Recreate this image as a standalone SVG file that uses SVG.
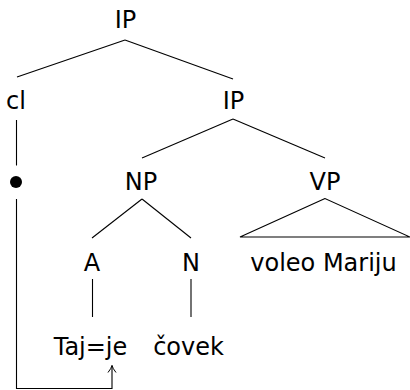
<svg xmlns="http://www.w3.org/2000/svg" width="410" height="390" viewBox="0 0 410 390">
<defs>
<style>
.t{font-family:"DejaVu Sans","Liberation Sans",sans-serif;font-size:24px;fill:#000;text-anchor:middle}
.e{stroke:#000;stroke-width:1.1;fill:none}
</style>
<marker id="ah" viewBox="0 0 10 10" refX="9" refY="5" markerWidth="10" markerHeight="10" markerUnits="userSpaceOnUse" orient="auto">
<path d="M2,1 Q6,4.2 9,5 Q6,5.8 2,9" fill="none" stroke="#000" stroke-width="1"/>
</marker>
</defs>
<rect width="410" height="390" fill="#fff"/>
<g id="connectors">
<line class="e" x1="125" y1="40" x2="17" y2="77"/>
<line class="e" x1="125" y1="40" x2="233" y2="79"/>
<line class="e" x1="233" y1="119" x2="142" y2="158"/>
<line class="e" x1="233" y1="119" x2="325" y2="158"/>
<line class="e" x1="142" y1="199" x2="92" y2="238"/>
<line class="e" x1="142" y1="199" x2="191" y2="238"/>
<polygon class="e" points="325,198.5 240,237 410,237"/>
<line class="e" x1="92.5" y1="279" x2="92.5" y2="317"/>
<line class="e" x1="191" y1="279" x2="191" y2="317"/>
<line class="e" x1="16.5" y1="120" x2="16.5" y2="165.5"/>
<polyline class="e" points="16.5,199 16.5,388.5 112,388.5 112,365.5" marker-end="url(#ah)"/>
</g>
<g id="n-ip-top"><text class="t" x="125.5" y="28">IP</text></g>
<g id="n-cl"><text class="t" x="16" y="109">cl</text></g>
<g id="n-ip"><text class="t" x="233.5" y="109">IP</text></g>
<g id="n-trace"><circle cx="16" cy="182" r="6" fill="#000"/></g>
<g id="n-np"><text class="t" x="141" y="190">NP</text></g>
<g id="n-vp"><text class="t" x="325" y="190">VP</text></g>
<g id="n-a"><text class="t" x="92" y="271">A</text></g>
<g id="n-n"><text class="t" x="191" y="271">N</text></g>
<g id="n-vp-text"><text class="t" x="323.5" y="271">voleo Mariju</text></g>
<g id="n-taj"><text class="t" x="90.5" y="355">Taj=je</text></g>
<g id="n-covek"><text class="t" x="188.5" y="355">čovek</text></g>
</svg>
